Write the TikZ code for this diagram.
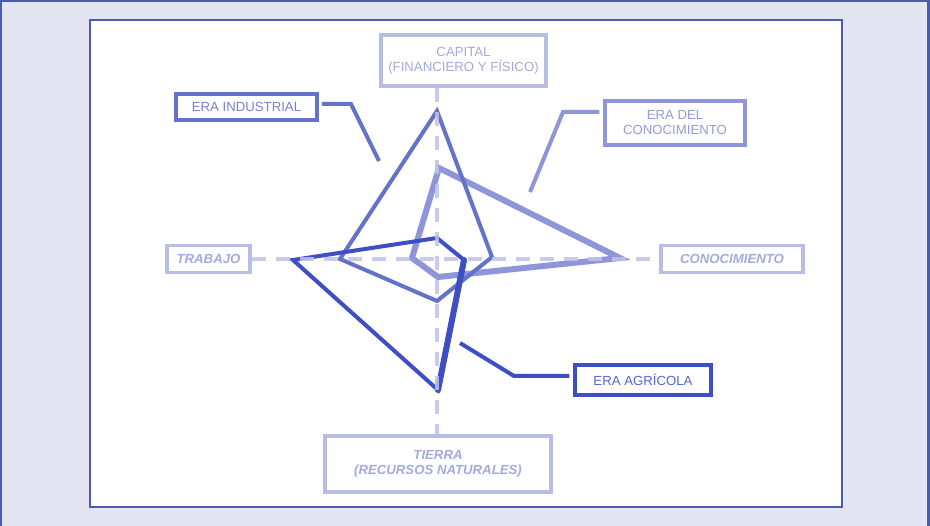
\documentclass[tikz,border=0pt]{standalone}
\usepackage{fontspec}
\setmainfont{Liberation Sans}
\definecolor{framec}{HTML}{4B5BB0}
\definecolor{bgc}{HTML}{E3E5F3}
\definecolor{axisc}{HTML}{B8BDE5}
\definecolor{axtext}{HTML}{A3AADD}
\definecolor{dashc}{HTML}{BFC3E8}
\definecolor{indc}{HTML}{6572C9}
\definecolor{indtext}{HTML}{7782CD}
\definecolor{conc}{HTML}{8E95D8}
\definecolor{context}{HTML}{959CDA}
\definecolor{agrc}{HTML}{3E4EC4}
\definecolor{agrtext}{HTML}{5866C8}
\begin{document}
\begin{tikzpicture}[x=1pt,y=-1pt,
  axisbox/.style={draw=axisc, line width=3.5pt, inner sep=0pt, align=center,
     text=axtext, font=\fontsize{13.2}{15}\selectfont},
  axisital/.style={axisbox, font=\fontsize{13.2}{15}\selectfont\bfseries\itshape},
  erabox/.style={line width=3.5pt, inner sep=0pt, align=center, font=\fontsize{13.2}{15}\selectfont},
  axisline/.style={draw=dashc, line width=4pt, dash pattern=on 14pt off 10pt, opacity=0.85},
  leader/.style={line width=4pt},
  poly/.style={line join=miter}]
\useasboundingbox (0,0) rectangle (930,526);
\fill[bgc] (0,0) rectangle (930,526);
\draw[draw=framec, line width=2.5pt] (1.2,530) -- (1.2,1.2) -- (928.5,1.2) -- (928.5,530);
\draw[fill=white, draw=framec, line width=2.5pt] (90,20) rectangle (842,507);

% axis boxes
\node[axisbox, minimum width=165pt, minimum height=51pt] (cap) at (463.5,60.5)
  {CAPITAL\\(FINANCIERO Y FÍSICO)};
\node[axisital, minimum width=83pt, minimum height=27pt] (trab) at (208.5,259) {TRABAJO};
\node[axisital, minimum width=142pt, minimum height=27pt] (cono) at (732,259) {CONOCIMIENTO};
\node[axisital, minimum width=226pt, minimum height=56pt] (tier) at (438,464)
  {TIERRA\\(RECURSOS NATURALES)};

% era boxes
\node[erabox, draw=indc, text=indtext, minimum width=141pt, minimum height=26pt] (eind) at (246.5,107) {ERA INDUSTRIAL};
\node[erabox, draw=conc, text=context, minimum width=140pt, minimum height=44pt] (econ) at (675,123) {ERA DEL\\CONOCIMIENTO};
\node[erabox, draw=agrc, text=agrtext, minimum width=136pt, minimum height=30pt] (eagr) at (643,380) {ERA AGRÍCOLA};

\coordinate (o) at (437,259);

% polygon vertices
\coordinate (i1) at (437,111);
\coordinate (i2) at (492,257);
\coordinate (i3) at (437,301);
\coordinate (i4) at (340,259);

\coordinate (c1) at (439,168);
\coordinate (c2) at (620,258);
\coordinate (c3) at (438,277);
\coordinate (c4) at (412,258);

\coordinate (a1) at (293,260);
\coordinate (a2) at (437,238);
\coordinate (a3) at (464,260);
\coordinate (a4) at (438,390);

% polygons
\draw[poly, conc, line width=6pt] (c1) -- (c2) -- (c3) -- (c4) -- cycle;
\draw[poly, indc, line width=4pt] (i1) -- (i2) -- (i3) -- (i4) -- cycle;
\draw[poly, agrc, line width=4pt] (a1) -- (a2) -- (a3) -- (a4) -- cycle;
\draw[agrc, line width=6pt, line cap=round] (a3) -- (a4);

% axes
\draw[axisline] (trab.east) -- (cono.west);
\draw[axisline] (o |- cap.south) -- (o |- tier.north);

% leader lines
\coordinate (li1) at (351,104);
\coordinate (li2) at (379,161);
\draw[leader, indc] ([xshift=3pt]eind.east |- li1) -- (li1) -- (li2);
\coordinate (lc1) at (563,112);
\coordinate (lc2) at (530,192);
\draw[leader, conc] ([xshift=-4pt]econ.west |- lc1) -- (lc1) -- (lc2);
\coordinate (la1) at (514,376);
\coordinate (la2) at (460,343);
\draw[leader, agrc] ([xshift=-4pt]eagr.west |- la1) -- (la1) -- (la2);
\end{tikzpicture}
\end{document}
